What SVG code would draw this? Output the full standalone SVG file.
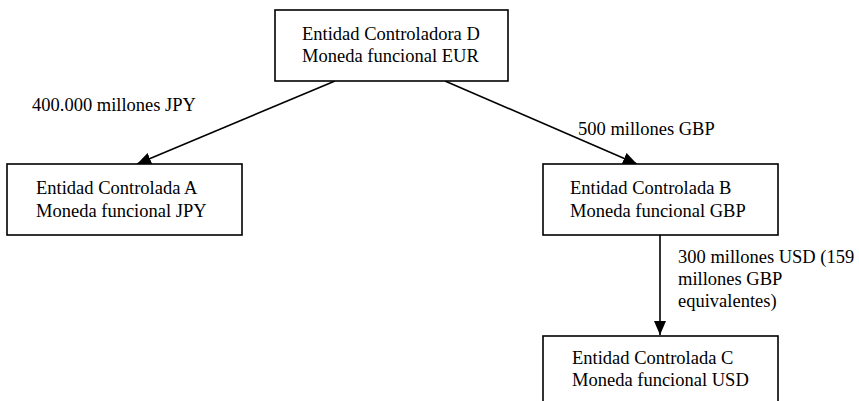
<svg xmlns="http://www.w3.org/2000/svg" width="859" height="401" viewBox="0 0 859 401">
<style>
.box{fill:#fff;stroke:#000;stroke-width:1.6}
.t{font-family:"Liberation Serif","Times New Roman",serif;font-size:18.5px;fill:#000}
.ln{stroke:#000;stroke-width:1.6;fill:none}
</style>
<defs>
<marker id="ah" viewBox="0 0 14 12" refX="14" refY="6" markerWidth="14" markerHeight="12" markerUnits="userSpaceOnUse" orient="auto">
<path d="M0,0 L14,6 L0,12 Z" fill="#000"/>
</marker>
</defs>
<rect width="859" height="401" fill="#fff"/>
<g id="connectors">
<line class="ln" x1="335" y1="81" x2="137" y2="164" marker-end="url(#ah)"/>
<line class="ln" x1="445" y1="81" x2="637" y2="164" marker-end="url(#ah)"/>
<line class="ln" x1="660" y1="235" x2="660" y2="335" marker-end="url(#ah)"/>
<text class="t" x="32" y="111">400.000 millones JPY</text>
<text class="t" x="578" y="135">500 millones GBP</text>
<text class="t" x="678" y="263">300 millones USD (159</text>
<text class="t" x="678" y="285">millones GBP</text>
<text class="t" x="678" y="307">equivalentes)</text>
</g>
<g id="nodeD">
<rect class="box" x="275" y="10" width="233" height="71"/>
<text class="t" x="302" y="39.5">Entidad Controladora D</text>
<text class="t" x="302" y="62">Moneda funcional EUR</text>
</g>
<g id="nodeA">
<rect class="box" x="7" y="164" width="235" height="71"/>
<text class="t" x="36" y="194">Entidad Controlada A</text>
<text class="t" x="36" y="217">Moneda funcional JPY</text>
</g>
<g id="nodeB">
<rect class="box" x="543" y="164" width="235" height="71"/>
<text class="t" x="570" y="194">Entidad Controlada B</text>
<text class="t" x="570" y="217">Moneda funcional GBP</text>
</g>
<g id="nodeC">
<rect class="box" x="543" y="336" width="235" height="80"/>
<text class="t" x="572" y="364">Entidad Controlada C</text>
<text class="t" x="572" y="386">Moneda funcional USD</text>
</g>
</svg>
